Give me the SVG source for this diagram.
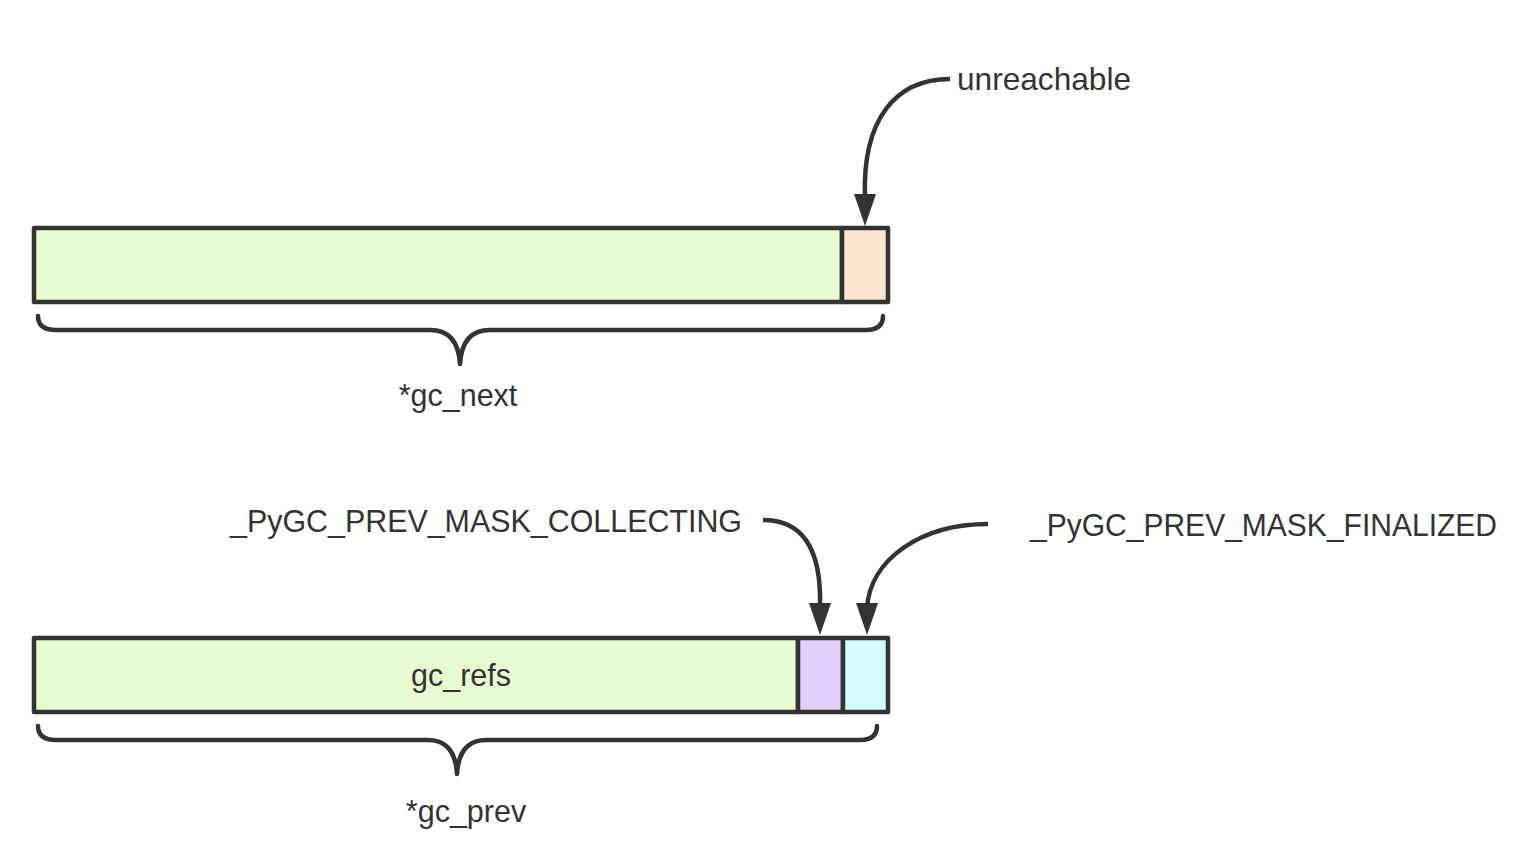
<svg xmlns="http://www.w3.org/2000/svg" width="1540" height="868" viewBox="0 0 1540 868">
<defs>
<style>
.box{stroke:#333;stroke-width:4.5;stroke-linejoin:round}
.brace{fill:none;stroke:#333;stroke-width:4.5;stroke-linecap:round;stroke-linejoin:round}
.conn{fill:none;stroke:#333;stroke-width:4.5}
.t{font-family:"Liberation Sans",Arial,sans-serif;font-size:30.5px;fill:#333}
</style>
</defs>
<rect width="1540" height="868" fill="#fff"/>
<g id="gc_next">
<rect class="box" x="34" y="228" width="808" height="74" fill="#e6fcd0"/>
<rect class="box" x="842" y="228" width="46" height="74" fill="#f9e5d0"/>
</g>
<g id="brace_next">
<path class="brace" d="M38,316 Q38,330 56,330 L430,330 Q458,330 460,364 Q462,330 490,330 L866,330 Q883,330 883,316"/>
<text class="t" x="458" y="406" text-anchor="middle">*gc_next</text>
</g>
<g id="gc_prev">
<rect class="box" x="34" y="638" width="764" height="74" fill="#e6fcd0"/>
<text class="t" x="461" y="686" text-anchor="middle">gc_refs</text>
<rect class="box" x="798" y="638" width="45" height="74" fill="#e0d0fb"/>
<rect class="box" x="843" y="638" width="45" height="74" fill="#d3fdfd"/>
</g>
<g id="brace_prev">
<path class="brace" d="M38,726 Q38,740 56,740 L428,740 Q455,740 457,774 Q459,740 486,740 L860,740 Q877,740 877,726"/>
<text class="t" x="466" y="822" text-anchor="middle">*gc_prev</text>
</g>
<g id="label_unreachable"><text class="t" x="957" y="90" textLength="174" lengthAdjust="spacingAndGlyphs">unreachable</text></g>
<g id="label_collecting"><text class="t" x="230" y="532" textLength="512" lengthAdjust="spacingAndGlyphs">_PyGC_PREV_MASK_COLLECTING</text></g>
<g id="label_finalized"><text class="t" x="1030" y="536" textLength="467" lengthAdjust="spacingAndGlyphs">_PyGC_PREV_MASK_FINALIZED</text></g>
<g id="connectors">
<path class="conn" d="M950,79 C895,79 862,120 865,198"/>
<path d="M854,194 L876,194 L865,226 Z" fill="#333"/>
<path class="conn" d="M763,520 C800,520 822,545 820,608"/>
<path d="M809,603 L831,603 L820,635 Z" fill="#333"/>
<path class="conn" d="M988,524 C920,524 870,560 867,608"/>
<path d="M856,603 L878,603 L867,635 Z" fill="#333"/>
</g>
</svg>
